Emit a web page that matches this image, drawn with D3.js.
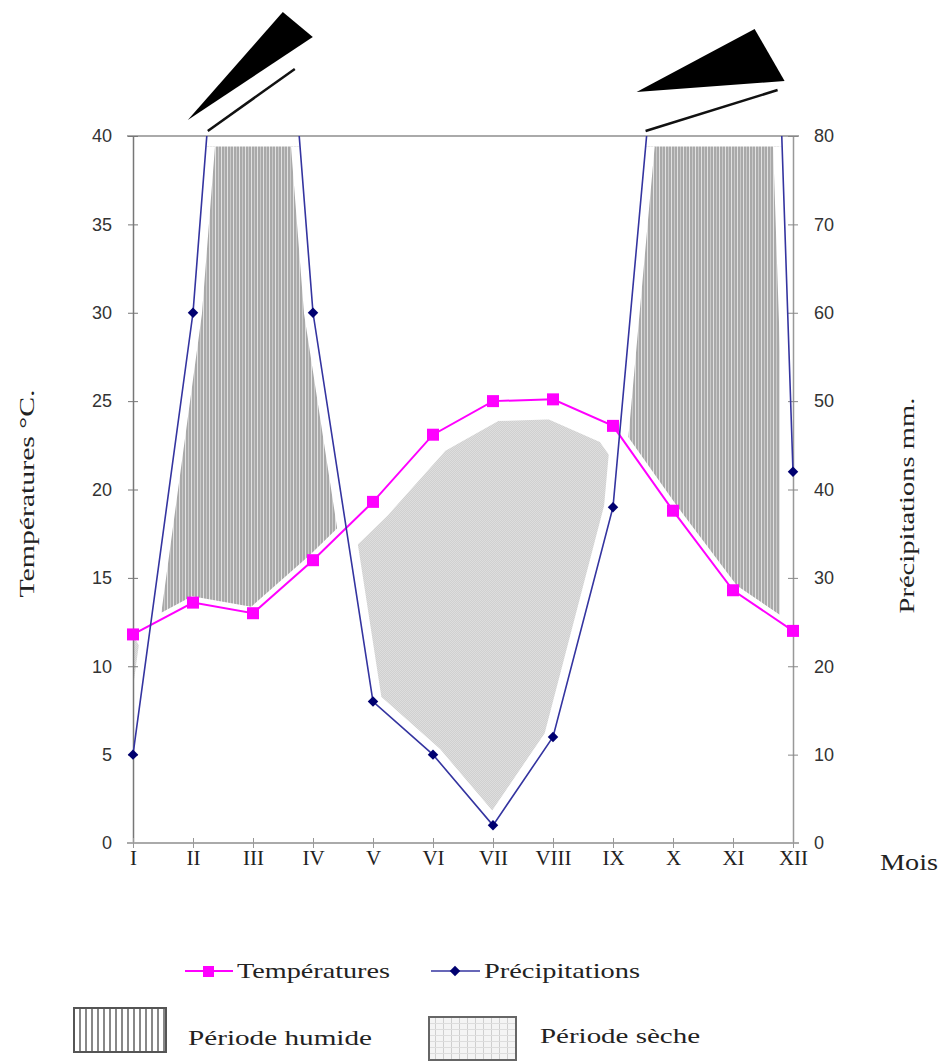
<!DOCTYPE html>
<html>
<head>
<meta charset="utf-8">
<script src="https://cdn.jsdelivr.net/npm/d3@7"></script>
<style>
  body { margin: 0; background: #fff; }
  svg { display: block; }
</style>
</head>
<body>
<div id="chart"></div>
<script>
// climate diagram: temperatures (left axis) and precipitation (right axis, P = 2T)

const months = ["I", "II", "III", "IV", "V", "VI", "VII", "VIII", "IX", "X", "XI", "XII"];
const temperature = [11.8, 13.6, 13.0, 16.0, 19.3, 23.1, 25.0, 25.1, 23.6, 18.8, 14.3, 12.0];
const precipitation = [10, 60, 147, 60, 16, 10, 2, 12, 38, 113, 245, 42];
const tempTicks = [0, 5, 10, 15, 20, 25, 30, 35, 40];
const precTicks = [0, 10, 20, 30, 40, 50, 60, 70, 80];

const width = 944, height = 1064;
const pLeft = 133, pRight = 793, pTop = 136, pBottom = 843;

const pink = "#ff00ff", blue = "#3434a0", navy = "#000070";
const serif = "'Liberation Serif', 'Times New Roman', serif";
const sans = "'Liberation Sans', Arial, sans-serif";

const x = d3.scalePoint().domain(months).range([pLeft, pRight]);
const yT = d3.scaleLinear().domain([0, 40]).range([pBottom, pTop]);
const yP = d3.scaleLinear().domain([0, 80]).range([pBottom, pTop]);

const data = months.map((m, i) => ({ m, t: temperature[i], p: precipitation[i] }));

const svg = d3.select("#chart").append("svg")
    .attr("width", width)
    .attr("height", height);

const defs = svg.append("defs");

// stripes for the wet period
const stripes = defs.append("pattern")
    .attr("id", "stripes")
    .attr("patternUnits", "userSpaceOnUse")
    .attr("width", 6).attr("height", 6);
stripes.append("rect").attr("width", 6).attr("height", 6).attr("fill", "#a9a9a9");
stripes.append("rect").attr("x", 2).attr("width", 1).attr("height", 6).attr("fill", "#c9c9c9");
stripes.append("rect").attr("x", 5).attr("width", 1).attr("height", 6).attr("fill", "#e2e2e2");

// fine dots for the dry period
const dots = defs.append("pattern")
    .attr("id", "dots")
    .attr("patternUnits", "userSpaceOnUse")
    .attr("width", 2).attr("height", 2);
dots.append("rect").attr("width", 2).attr("height", 2).attr("fill", "#d0d0d0");
dots.append("rect").attr("width", 1).attr("height", 1).attr("fill", "#dedede");
dots.append("rect").attr("x", 1).attr("y", 1).attr("width", 1).attr("height", 1).attr("fill", "#dedede");

const legendDots = defs.append("pattern")
    .attr("id", "legendDots")
    .attr("patternUnits", "userSpaceOnUse")
    .attr("width", 8).attr("height", 6);
legendDots.append("rect").attr("width", 8).attr("height", 6).attr("fill", "#f4f4f4");
legendDots.append("rect").attr("x", 3).attr("width", 1).attr("height", 6).attr("fill", "#cfcfcf");
legendDots.append("rect").attr("y", 3).attr("width", 8).attr("height", 1).attr("fill", "#dddddd");

const pY = d => yP(d.p);
const tY = d => yT(d.t);
const xm = d => x(d.m);

// clip regions built from the two series
const clip = (id, area) => defs.append("clipPath").attr("id", id)
    .append("path").attr("d", area(data));

clip("underP", d3.area().x(xm).y0(pBottom).y1(pY));
clip("aboveP", d3.area().x(xm).y0(pY).y1(pTop - 200));
clip("aboveT", d3.area().x(xm).y0(tY).y1(yT(39.4)));
clip("underT", d3.area().x(xm).y0(pBottom).y1(tY));
defs.append("clipPath").attr("id", "plot")
    .append("rect").attr("x", pLeft - 10).attr("y", pTop).attr("width", pRight - pLeft + 20).attr("height", pBottom - pTop + 10);

const tLine = d3.line().x(xm).y(tY);
const pLine = d3.line().x(xm).y(pY);

// wet period: precipitation above temperature
const wet = svg.append("g").attr("clip-path", "url(#underP)")
    .append("g").attr("clip-path", "url(#aboveT)");
wet.append("rect").attr("x", pLeft).attr("y", pTop).attr("width", pRight - pLeft).attr("height", pBottom - pTop)
    .attr("fill", "url(#stripes)");
wet.append("path").attr("d", pLine(data)).attr("fill", "none").attr("stroke", "#fff").attr("stroke-width", 18);
wet.append("path").attr("d", tLine(data)).attr("fill", "none").attr("stroke", "#fff").attr("stroke-width", 12);
wet.selectAll(".edge").data([pLeft, pRight]).join("line")
    .attr("x1", d => d).attr("x2", d => d).attr("y1", pTop).attr("y2", pBottom)
    .attr("stroke", "#fff").attr("stroke-width", 26);

// dry period: precipitation under temperature
const dry = svg.append("g").attr("clip-path", "url(#aboveP)")
    .append("g").attr("clip-path", "url(#underT)");
dry.append("rect").attr("x", pLeft).attr("y", pTop).attr("width", pRight - pLeft).attr("height", pBottom - pTop)
    .attr("fill", "url(#dots)");
dry.append("path").attr("d", pLine(data)).attr("fill", "none").attr("stroke", "#fff").attr("stroke-width", 18)
    .attr("stroke-linejoin", "round");
dry.append("path").attr("d", tLine(data)).attr("fill", "none").attr("stroke", "#fff").attr("stroke-width", 40)
    .attr("stroke-linejoin", "round");

// frame line at the top
svg.append("line").attr("x1", pLeft - 6).attr("x2", pRight + 6).attr("y1", pTop).attr("y2", pTop)
    .attr("stroke", "#aaa").attr("stroke-width", 2);

// left axis
const axL = svg.append("g")
    .attr("transform", `translate(${pLeft},0)`)
    .call(d3.axisLeft(yT).tickValues(tempTicks).tickSize(5).tickSizeOuter(0).tickPadding(16));
axL.select(".domain").attr("stroke", "#777").attr("stroke-width", 1.5);
axL.selectAll(".tick line").attr("x2", 5).attr("x1", -5).attr("stroke", "#777");
axL.selectAll(".tick text").attr("font-family", sans).attr("font-size", 18).attr("fill", "#333");

// right axis
const axR = svg.append("g")
    .attr("transform", `translate(${pRight},0)`)
    .call(d3.axisRight(yP).tickValues(precTicks).tickSize(5).tickSizeOuter(0).tickPadding(16));
axR.select(".domain").attr("stroke", "#999").attr("stroke-width", 1.5);
axR.selectAll(".tick line").attr("x1", -5).attr("x2", 5).attr("stroke", "#888");
axR.selectAll(".tick text").attr("font-family", sans).attr("font-size", 18).attr("fill", "#333");

// bottom axis
const axB = svg.append("g")
    .attr("transform", `translate(0,${pBottom})`)
    .call(d3.axisBottom(x).tickSize(5).tickSizeOuter(0).tickPadding(2));
axB.select(".domain").attr("d", `M${pLeft - 6},0H${pRight + 6}`).attr("stroke", "#aaa").attr("stroke-width", 2);
axB.selectAll(".tick line").attr("y1", -5).attr("y2", 5).attr("stroke", "#999");
axB.selectAll(".tick text").attr("font-family", serif).attr("font-size", 21).attr("fill", "#222");

// series lines (clipped at the top of the plot)
const lines = svg.append("g").attr("clip-path", "url(#plot)");
lines.append("path").attr("d", tLine(data)).attr("fill", "none").attr("stroke", pink).attr("stroke-width", 2);
lines.append("path").attr("d", pLine(data)).attr("fill", "none").attr("stroke", blue).attr("stroke-width", 1.6);

lines.selectAll(".sq").data(data).join("rect")
    .attr("x", d => xm(d) - 6).attr("y", d => tY(d) - 6)
    .attr("width", 12).attr("height", 12).attr("fill", pink);

const diamond = d3.symbol().type(d3.symbolDiamond2).size(70);
lines.selectAll(".dm").data(data.filter(d => d.p <= 80)).join("path")
    .attr("d", diamond)
    .attr("transform", d => `translate(${xm(d)},${pY(d)})`)
    .attr("fill", navy);

// arrows where precipitation leaves the top of the scale
const exits = [];
for (let i = 0; i < data.length - 1; i++) {
    const a = data[i], b = data[i + 1];
    if (a.p < 80 && b.p >= 80) {
        exits.push(xm(a) + (80 - a.p) / (b.p - a.p) * (xm(b) - xm(a)));
    }
}
const marks = [
    { tri: [[-19, -16], [76, -124], [106, -99]], line: [[1, -5], [88, -67]] },
    { tri: [[-10, -44], [108, -107], [138, -55]], line: [[-1, -5], [131, -46]] }
];
exits.forEach((cx, i) => {
    const mk = marks[i];
    if (!mk) return;
    svg.append("path")
        .attr("d", "M" + mk.tri.map(([dx, dy]) => `${cx + dx},${pTop + dy}`).join("L") + "Z")
        .attr("fill", "#000");
    svg.append("line")
        .attr("x1", cx + mk.line[0][0]).attr("y1", pTop + mk.line[0][1])
        .attr("x2", cx + mk.line[1][0]).attr("y2", pTop + mk.line[1][1])
        .attr("stroke", "#111").attr("stroke-width", 2.5);
});

// axis titles
svg.append("text")
    .attr("transform", `translate(34,${(pTop + pBottom) / 2 + 108}) rotate(-90)`)
    .attr("font-family", serif).attr("font-size", 22).attr("fill", "#222")
    .attr("textLength", 208).attr("lengthAdjust", "spacingAndGlyphs")
    .text("Températures °C.");

svg.append("text")
    .attr("transform", `translate(914,${(pTop + pBottom) / 2 + 124}) rotate(-90)`)
    .attr("font-family", serif).attr("font-size", 22).attr("fill", "#222")
    .attr("textLength", 216).attr("lengthAdjust", "spacingAndGlyphs")
    .text("Précipitations mm.");

svg.append("text")
    .attr("x", 880).attr("y", 870)
    .attr("font-family", serif).attr("font-size", 23).attr("fill", "#222")
    .attr("textLength", 58).attr("lengthAdjust", "spacingAndGlyphs")
    .text("Mois");

// legend
const lg = svg.append("g").attr("font-family", serif).attr("font-size", 21).attr("fill", "#222");

lg.append("line").attr("x1", 185).attr("x2", 233).attr("y1", 971).attr("y2", 971).attr("stroke", pink).attr("stroke-width", 2);
lg.append("rect").attr("x", 203).attr("y", 966).attr("width", 11).attr("height", 11).attr("fill", pink);
lg.append("text").attr("x", 237).attr("y", 978).attr("textLength", 153).attr("lengthAdjust", "spacingAndGlyphs").text("Températures");

lg.append("line").attr("x1", 431).attr("x2", 480).attr("y1", 971).attr("y2", 971).attr("stroke", blue).attr("stroke-width", 1.6);
lg.append("path").attr("d", diamond).attr("transform", "translate(455,971)").attr("fill", navy);
lg.append("text").attr("x", 484).attr("y", 978).attr("textLength", 156).attr("lengthAdjust", "spacingAndGlyphs").text("Précipitations");

const hb = lg.append("g");
hb.append("rect").attr("x", 74).attr("y", 1008).attr("width", 92).attr("height", 44)
    .attr("fill", "#fff").attr("stroke", "#555").attr("stroke-width", 2);
hb.selectAll("line").data(d3.range(80, 166, 6)).join("line")
    .attr("x1", d => d).attr("x2", d => d).attr("y1", 1009).attr("y2", 1051)
    .attr("stroke", "#888").attr("stroke-width", 2);
lg.append("text").attr("x", 188).attr("y", 1045).attr("textLength", 184).attr("lengthAdjust", "spacingAndGlyphs").text("Période humide");

lg.append("rect").attr("x", 429).attr("y", 1017).attr("width", 87).attr("height", 43)
    .attr("fill", "url(#legendDots)").attr("stroke", "#666").attr("stroke-width", 2);
lg.append("text").attr("x", 540).attr("y", 1043).attr("textLength", 160).attr("lengthAdjust", "spacingAndGlyphs").text("Période sèche");
</script>
</body>
</html>
